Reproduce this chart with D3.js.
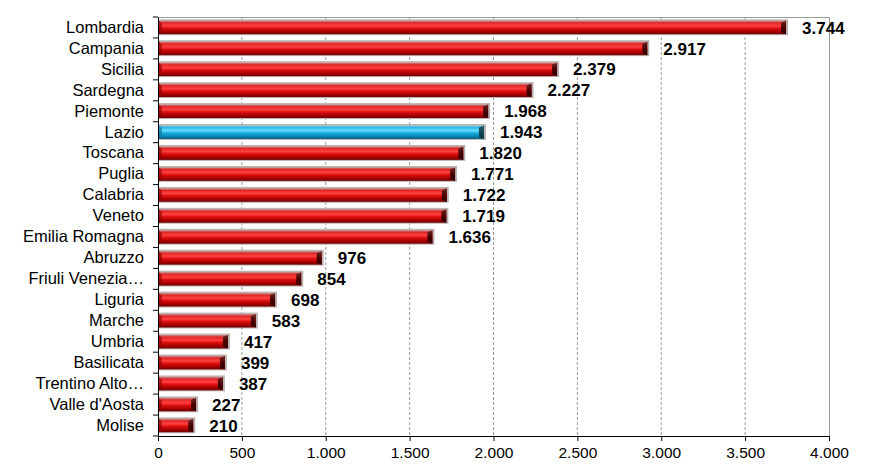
<!DOCTYPE html>
<html><head><meta charset="utf-8">
<script src="https://cdn.jsdelivr.net/npm/d3@7"></script>
<style>body{margin:0;background:#fff}svg{display:block}</style>
</head><body><svg id="c" width="871" height="472"></svg>
<script>
const categories = ["Lombardia","Campania","Sicilia","Sardegna","Piemonte","Lazio","Toscana","Puglia","Calabria","Veneto","Emilia Romagna","Abruzzo","Friuli Venezia…","Liguria","Marche","Umbria","Basilicata","Trentino Alto…","Valle d'Aosta","Molise"];
const values = [3744,2917,2379,2227,1968,1943,1820,1771,1722,1719,1636,976,854,698,583,417,399,387,227,210];
const highlight = ["Lazio"];
const xTicks = [0,500,1000,1500,2000,2500,3000,3500,4000];

const svg = d3.select("#c");
const m = {l:158, r:829, t:17, b:436};
const loc = d3.formatLocale({decimal:",", thousands:".", grouping:[3], currency:["€",""]});
const fmt = loc.format(",d");
const x = d3.scaleLinear().domain([0,4000]).range([m.l,m.r]);
const y = d3.scaleBand().domain(categories).range([m.t,m.b]).paddingInner(0.36).paddingOuter(0.18);
const FONT = "Liberation Sans, Arial, sans-serif";

const defs = svg.append("defs");
function grad(id, stops){
  const g = defs.append("linearGradient").attr("id",id).attr("x1",0).attr("y1",0).attr("x2",0).attr("y2",1);
  stops.forEach(s=>g.append("stop").attr("offset",s[0]).attr("stop-color",s[1]));
}
grad("gr",[[0,"#c98a8a"],[0.15,"#e02828"],[0.38,"#ff4040"],[0.55,"#e01010"],[0.8,"#a80000"],[1,"#6e0000"]]);
grad("gb",[[0,"#8ec8dc"],[0.15,"#30b8e8"],[0.38,"#66dcff"],[0.55,"#18b0e0"],[0.8,"#0a86b8"],[1,"#05587a"]]);
grad("gcr",[[0,"#6a2a2a"],[0.5,"#4a0000"],[1,"#2a0000"]]);
grad("gcb",[[0,"#2a5a6a"],[0.5,"#104858"],[1,"#0a3040"]]);

// gridlines
svg.append("g").selectAll("line").data(xTicks.filter(d=>d>0 && d<4000)).join("line")
  .attr("x1",d=>x(d)).attr("x2",d=>x(d)).attr("y1",m.t).attr("y2",m.b)
  .attr("stroke","#9a9a9a").attr("stroke-width",1).attr("stroke-dasharray","3,2");
svg.append("path").attr("d",`M${m.l},${m.t+0.5}H${m.r+0.5}V${m.b}`).attr("fill","none").attr("stroke","#9a9a9a");

// bars
const bh = y.bandwidth();
const bars = svg.append("g").selectAll("g").data(categories).join("g");
bars.append("rect")
  .attr("x",x(0)).attr("y",d=>y(d)-1.5)
  .attr("width",(d,i)=>x(values[i])-x(0)+2).attr("height",bh+2.5)
  .attr("fill","#bdb3b3");
bars.append("rect")
  .attr("x",x(0)+1).attr("y",d=>y(d))
  .attr("width",(d,i)=>x(values[i])-x(0)-1).attr("height",bh)
  .attr("fill",d=>highlight.includes(d)?"url(#gb)":"url(#gr)");
bars.append("path")
  .attr("d",(d,i)=>{const xe=x(values[i]); const y0=y(d); return `M${xe-5},${y0+2}L${xe},${y0}V${y0+bh}L${xe-5},${y0+bh-2}Z`;})
  .attr("fill",d=>highlight.includes(d)?"url(#gcb)":"url(#gcr)");
bars.append("path")
  .attr("d",d=>{const y0=y(d); return `M${x(0)+1},${y0}L${x(0)+4},${y0+3}V${y0+bh-3}L${x(0)+1},${y0+bh}Z`;})
  .attr("fill",d=>highlight.includes(d)?"#0a6a90":"#8a0000").attr("opacity",0.6);

// value labels
svg.append("g").selectAll("text").data(categories).join("text")
  .attr("x",(d,i)=>x(values[i])+16).attr("y",d=>y(d)+bh/2)
  .attr("dy","0.36em")
  .attr("font-family",FONT).attr("font-weight","bold").attr("font-size",17)
  .attr("fill","#000").text((d,i)=>fmt(values[i]));

// y axis
const yAxis = d3.axisLeft(d3.scaleBand().domain(categories).range([m.t,m.b])).tickSize(0).tickPadding(14);
const ga = svg.append("g").attr("transform",`translate(${m.l},0)`).call(yAxis);
ga.select(".domain").attr("stroke","#000");
ga.selectAll("text").attr("font-family",FONT).attr("font-size",16.5).attr("fill","#000");
const step = (m.b-m.t)/categories.length;
svg.append("g").selectAll("line").data(d3.range(categories.length+1)).join("line")
  .attr("x1",m.l-5).attr("x2",m.l).attr("y1",d=>m.t+d*step).attr("y2",d=>m.t+d*step).attr("stroke","#000");

// x axis
const xa = svg.append("g").attr("transform",`translate(0,${m.b})`)
  .call(d3.axisBottom(x).tickValues(xTicks).tickFormat(loc.format(",d")).tickSize(5).tickPadding(6));
xa.select(".domain").attr("stroke","#000").attr("d",`M${m.l},0.5H${m.r}`);
xa.selectAll("line").attr("stroke","#000");
xa.selectAll("text").attr("font-family",FONT).attr("font-size",15.5).attr("fill","#000");
</script></body></html>
